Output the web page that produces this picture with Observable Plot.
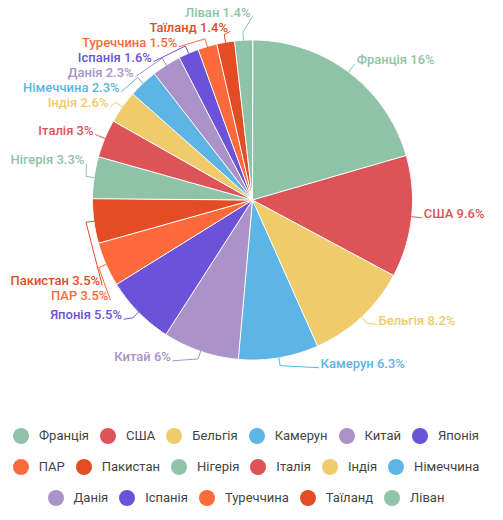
<!DOCTYPE html>
<html>
<head>
<meta charset="utf-8">
<script src="https://cdn.jsdelivr.net/npm/d3@7"></script>
<script src="https://cdn.jsdelivr.net/npm/@observablehq/plot@0.6"></script>
<style>
  body { margin: 0; background: #fff; font-family: Roboto, sans-serif; }
  #chart { width: 503px; }
  #chart svg { display: block; }
  .legend { display: flex; flex-wrap: wrap; justify-content: center; width: 503px; font-size: 13px; color: #444; font-family: Roboto, sans-serif; }
  .item { display: flex; align-items: center; height: 31px; margin-right: 11px; white-space: nowrap; }
  .sw { width: 16px; height: 16px; border-radius: 50%; margin-right: 10px; flex: none; }
</style>
</head>
<body>
<div id="chart"></div>
<div class="legend" id="legend"></div>
<script>
// ---- data ----
const countries = ["Франція", "США", "Бельгія", "Камерун", "Китай", "Японія", "ПАР", "Пакистан", "Нігерія", "Італія", "Індія", "Німеччина", "Данія", "Іспанія", "Туреччина", "Таїланд", "Ліван"];
const shares = [16, 9.6, 8.2, 6.3, 6, 5.5, 3.5, 3.5, 3.3, 3, 2.6, 2.3, 2.3, 1.6, 1.5, 1.4, 1.4];
const palette = ["#8fc3a8", "#dc5457", "#f0cb6b", "#5cb5e4", "#ab92c8", "#6b52d8", "#fe6a3b", "#e34d24"];
const colors = countries.map((d, i) => palette[i % palette.length]);

// ---- layout constants ----
const W = 503, H = 420, cx = 252, cy = 199.5, r = 160;
const rA = r + 10, rBbottom = 182, gap = 15, margin = 10;

const arcs = d3.pie().sort(null).startAngle(0).endAngle(2 * Math.PI)(shares);

// slice polygons
const slicePts = [];
arcs.forEach((p, i) => {
  const name = countries[i];
  slicePts.push({name, x: cx, y: cy});
  const n = Math.max(2, Math.ceil((p.endAngle - p.startAngle) / (Math.PI / 360)));
  for (let k = 0; k <= n; k++) {
    const a = p.startAngle + (p.endAngle - p.startAngle) * k / n;
    slicePts.push({name, x: cx + r * Math.sin(a), y: cy - r * Math.cos(a)});
  }
});

// text measurement
const ctx = document.createElement("canvas").getContext("2d");
ctx.font = "500 13px Roboto";

const labels = arcs.map((p, i) => {
  const a = (p.startAngle + p.endAngle) / 2;
  const side = a < Math.PI ? 1 : -1;
  const text = `${countries[i]} ${shares[i]}%`;
  const w = ctx.measureText(text).width;
  const y0 = cy - rA * Math.cos(a);
  return {i, name: countries[i], a, side, text, w, y0, y: y0, lo: 16, hi: H - 12};
});

// width constraints (keep text inside the view)
labels.forEach(L => {
  const maxDx = L.side < 0 ? cx - 2 - margin - L.w : W - margin - cx - 2 - L.w;
  if (maxDx < rA) {
    const rb = L.y0 > cy ? rBbottom : rA;
    const minDy = rb * Math.sqrt(Math.max(0, 1 - (maxDx / rA) ** 2));
    if (Math.abs(L.y0 - cy) < minDy) {
      if (L.y0 >= cy) { L.y = cy + minDy; L.lo = Math.max(L.lo, cy + minDy); }
      else { L.y = cy - minDy; L.hi = Math.min(L.hi, cy - minDy); }
    }
  }
});

// vertical relaxation per side
for (const s of [1, -1]) {
  const list = labels.filter(L => L.side === s).sort((u, v) => s > 0 ? u.a - v.a : v.a - u.a);
  for (let it = 0; it < 600; it++) {
    for (let k = 1; k < list.length; k++) {
      const A = list[k - 1], B = list[k];
      const ov = A.y + gap - B.y;
      if (ov > 0) {
        let ma = ov / 2, mb = ov / 2;
        const aRoom = Math.max(0, A.y - A.lo), bRoom = Math.max(0, B.hi - B.y);
        if (ma > aRoom) { mb += ma - aRoom; ma = aRoom; }
        if (mb > bRoom) { ma += mb - bRoom; mb = bRoom; }
        A.y -= ma; B.y += mb;
      }
    }
    list.forEach(L => { L.y = Math.min(L.hi, Math.max(L.lo, L.y)); });
  }
}

// x positions on circle (top) / ellipse (bottom)
labels.forEach(L => {
  const dy = L.y - cy;
  const rb = dy > 0 ? rBbottom : rA;
  const dx = rA * Math.sqrt(Math.max(0, 1 - (dy / rb) ** 2));
  L.ax = cx + L.side * dx;
  L.tx = L.ax + L.side * 2;
});

const linePts = [];
labels.forEach(L => {
  linePts.push({name: L.name, x: cx + r * Math.sin(L.a), y: cy - r * Math.cos(L.a)});
  linePts.push({name: L.name, x: cx + (r + 8) * Math.sin(L.a), y: cy - (r + 8) * Math.cos(L.a)});
  linePts.push({name: L.name, x: L.ax, y: L.y});
});

const chart = Plot.plot({
  width: W, height: H, margin: 0,
  style: {fontFamily: "Roboto, sans-serif", background: "#fff"},
  x: {domain: [0, W], range: [0, W], axis: null},
  y: {domain: [0, H], range: [0, H], axis: null},
  color: {domain: countries, range: colors},
  marks: [
    Plot.line(slicePts, {x: "x", y: "y", z: "name", fill: "name", stroke: "white", strokeWidth: 1, curve: "linear-closed"}),
    Plot.line(linePts, {x: "x", y: "y", z: "name", stroke: "name", strokeWidth: 1}),
    Plot.text(labels.filter(L => L.side > 0), {x: "tx", y: "y", text: "text", fill: "name", textAnchor: "start", fontSize: 13, fontWeight: 500, dy: -4}),
    Plot.text(labels.filter(L => L.side < 0), {x: "tx", y: "y", text: "text", fill: "name", textAnchor: "end", fontSize: 13, fontWeight: 500, dy: -4})
  ]
});
document.getElementById("chart").appendChild(chart);

// legend
const leg = document.getElementById("legend");
countries.forEach((c, i) => {
  const it = document.createElement("div");
  it.className = "item";
  const sw = document.createElement("span");
  sw.className = "sw";
  sw.style.background = colors[i];
  const t = document.createElement("span");
  t.textContent = c;
  it.appendChild(sw); it.appendChild(t);
  leg.appendChild(it);
});
</script>
</body>
</html>
